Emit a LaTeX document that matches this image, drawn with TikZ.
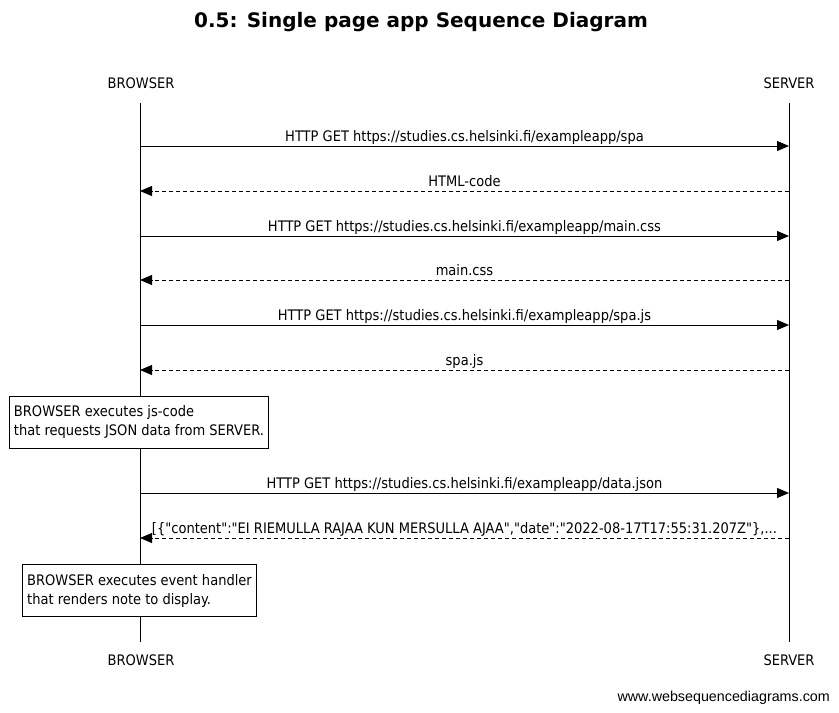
\documentclass[tikz,border=0pt]{standalone}
\usepackage{fontspec}
\setmainfont[Ligatures=TeXOff]{DejaVu Sans Condensed}
\newfontfamily\titlefont{DejaVu Sans}
\newfontfamily\footfont{Liberation Sans}
\usetikzlibrary{arrows.meta}
\begin{document}
\begin{tikzpicture}[x=1bp,y=-1bp,
  lbl/.style={font=\fontsize{14.5bp}{17bp}\selectfont, inner sep=0pt},
  actor/.style={lbl, anchor=base},
  msglbl/.style={lbl, anchor=base, midway, yshift=4.5bp},
  lifeline/.style={line width=0.8bp},
  req/.style={line width=0.8bp, -{Triangle[length=12bp,width=10bp]}},
  resp/.style={line width=0.8bp, dash pattern=on 4bp off 3bp, -{Triangle[length=12bp,width=10bp]}},
  note/.style={draw, line width=0.8bp, fill=white, align=left, font=\fontsize{14.5bp}{19bp}\selectfont, inner xsep=4.5bp, inner ysep=2bp, minimum height=52bp}
]
\useasboundingbox (0,0) rectangle (839,713);
\node[font=\titlefont\bfseries\fontsize{20bp}{24bp}\selectfont, inner sep=0pt] (title) at (421,22) {0.5: Single page app Sequence Diagram};

\node[actor] (b1) at (141,89) {BROWSER};
\node[actor] (s1) at (789,89) {SERVER};
\node[actor] (b2) at (141,665) {BROWSER};
\node[actor] (s2) at (789,665) {SERVER};

\coordinate (bt) at (140,103); \coordinate (bb) at (140,642);
\coordinate (st) at (789,103); \coordinate (sb) at (789,642);
\draw[lifeline] (bt) -- (bb);
\draw[lifeline] (st) -- (sb);

\foreach \i/\y in {1/146,2/191,3/236,4/280,5/325,6/370,7/493,8/538}{
  \coordinate (b\i) at (140,\y);
  \coordinate (s\i) at (789,\y);
}

\draw[req] (b1) -- (s1) node[msglbl] (m1) {HTTP GET https://studies.cs.helsinki.fi/exampleapp/spa};
\draw[resp] (s2) -- (b2) node[msglbl] (m2) {HTML-code};
\draw[req] (b3) -- (s3) node[msglbl] (m3) {HTTP GET https://studies.cs.helsinki.fi/exampleapp/main.css};
\draw[resp] (s4) -- (b4) node[msglbl] (m4) {main.css};
\draw[req] (b5) -- (s5) node[msglbl] (m5) {HTTP GET https://studies.cs.helsinki.fi/exampleapp/spa.js};
\draw[resp] (s6) -- (b6) node[msglbl] (m6) {spa.js};

\node[note] (n1) at (139,422) {BROWSER executes js-code\\that requests JSON data from SERVER.};

\draw[req] (b7) -- (s7) node[msglbl] (m7) {HTTP GET https://studies.cs.helsinki.fi/exampleapp/data.json};
\draw[resp] (s8) -- (b8) node[msglbl] (m8) {[\{"content":"EI RIEMULLA RAJAA KUN MERSULLA AJAA","date":"2022-08-17T17:55:31.207Z"\},...};

\node[note] (n2) at (139.5,590.5) {BROWSER executes event handler\\that renders note to display.};

\node[font=\footfont\fontsize{14.3bp}{17bp}\selectfont, anchor=east, inner sep=0pt] (foot) at (830,698) {www.websequencediagrams.com};
\end{tikzpicture}
\end{document}
